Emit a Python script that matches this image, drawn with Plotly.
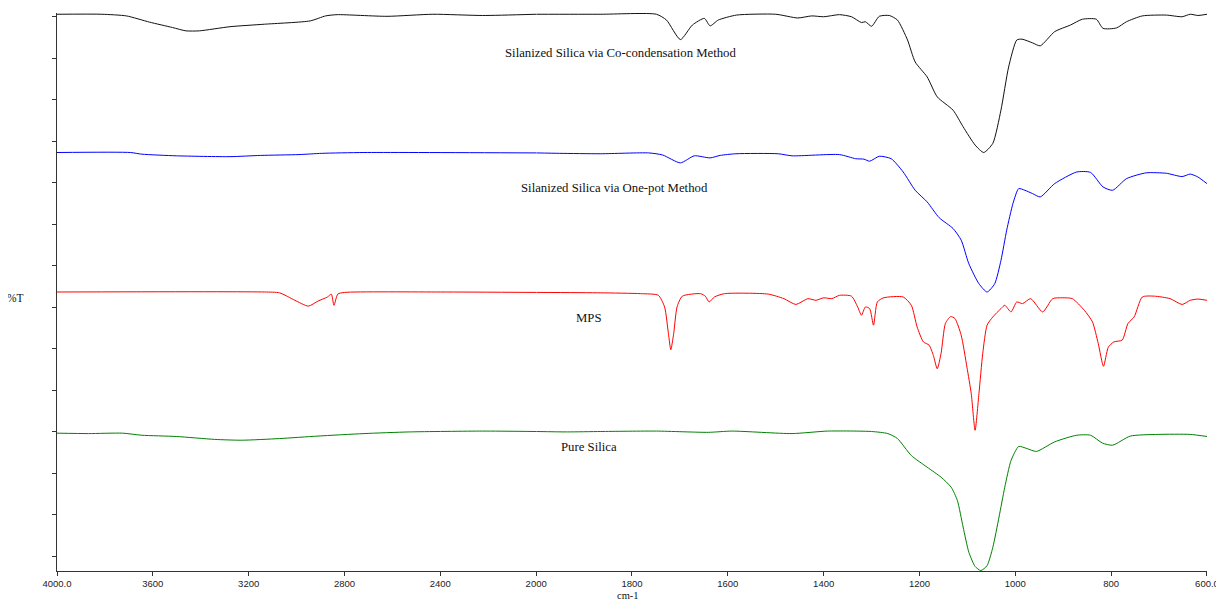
import plotly.graph_objects as go

# ---------------- data (wavenumber cm-1, %T offset units) ----------------
co_wn = [4000, 3813, 3710, 3614, 3518, 3462, 3406, 3278, 3134, 2943,
         2879, 2831, 2623, 2431, 2223, 2000, 1865, 1749, 1728, 1699,
         1674, 1649, 1637, 1620, 1582, 1500, 1454, 1425, 1400, 1367,
         1342, 1321, 1313, 1300, 1284, 1263, 1246, 1225, 1209, 1184,
         1163, 1130, 1109, 1084, 1066, 1047, 1030, 1014, 997, 986,
         964, 948, 918, 885, 860, 831, 817, 789, 768, 735,
         685, 652, 635, 619, 600]
co_t = [130.6, 130.6, 130.2, 128.7, 127.4, 126.6, 126.6, 127.6, 128.2, 129.0,
        130.2, 130.5, 130.1, 130.6, 130.3, 130.6, 130.6, 130.6, 129.2, 124.5,
        128.0, 129.6, 127.8, 129.2, 130.4, 130.6, 129.7, 130.2, 130.0, 130.5,
        130.0, 128.6, 128.8, 127.7, 130.1, 130.3, 129.2, 124.4, 119.1, 115.5,
        110.7, 107.5, 103.5, 99.1, 97.3, 99.5, 107.5, 117.9, 124.4, 124.6,
        123.7, 123.0, 126.4, 128.0, 129.4, 129.4, 127.2, 127.3, 128.8, 130.2,
        130.4, 130.0, 130.6, 130.3, 130.6]

op_wn = [4000, 3694, 3646, 3502, 3278, 3150, 2990, 2895, 2719, 2000,
         1951, 1865, 1765, 1736, 1699, 1670, 1637, 1616, 1583, 1495,
         1466, 1367, 1333, 1316, 1304, 1284, 1259, 1234, 1209, 1184,
         1159, 1130, 1113, 1097, 1076, 1059, 1043, 1030, 1018, 1005,
         993, 980, 964, 948, 918, 872, 843, 817, 797, 768,
         727, 685, 652, 635, 619, 600]
op_t = [97.3, 97.3, 96.9, 96.5, 96.3, 96.6, 96.8, 97.1, 97.3, 97.2,
        97.1, 97.0, 97.2, 96.7, 94.8, 96.5, 96.0, 96.6, 97.0, 97.0,
        96.5, 96.8, 95.8, 95.7, 95.2, 96.4, 95.8, 92.6, 88.2, 85.4,
        81.6, 79.0, 76.2, 70.5, 65.7, 63.7, 65.7, 71.3, 78.6, 85.0,
        88.6, 88.2, 87.4, 86.6, 89.8, 92.6, 92.5, 89.0, 88.2, 91.0,
        92.4, 92.3, 91.5, 92.1, 91.4, 89.8]

mps_wn = [4000, 3134, 3071, 3007, 2951, 2911, 2871, 2855, 2844, 2828,
          2799, 2399, 2000, 1865, 1782, 1745, 1732, 1724, 1719, 1713,
          1706, 1695, 1657, 1647, 1639, 1628, 1607, 1516, 1483, 1458,
          1433, 1416, 1400, 1383, 1367, 1342, 1329, 1321, 1313, 1304,
          1296, 1288, 1275, 1234, 1217, 1205, 1192, 1180, 1171, 1163,
          1155, 1146, 1135, 1126, 1113, 1101, 1092, 1084, 1076, 1068,
          1059, 1047, 1030, 1022, 1009, 997, 985, 968, 943, 922,
          901, 881, 856, 839, 827, 816, 806, 794, 777, 765,
          752, 735, 710, 677, 652, 635, 619, 600]
mps_t = [63.7, 63.7, 63.5, 61.7, 60.3, 61.5, 62.5, 63.2, 60.5, 63.2,
         63.6, 63.7, 63.6, 63.5, 63.3, 62.9, 60.1, 53.7, 49.8, 53.7,
         60.1, 62.7, 63.3, 62.7, 61.3, 62.5, 63.3, 63.2, 62.1, 60.7,
         62.1, 61.7, 62.3, 62.1, 62.9, 62.7, 60.1, 58.1, 60.1, 59.7,
         55.7, 61.3, 62.3, 62.5, 60.5, 55.3, 51.7, 50.9, 48.4, 45.2,
         48.9, 56.1, 57.8, 57.3, 53.3, 45.6, 39.2, 30.4, 39.2, 48.9,
         55.7, 57.7, 59.7, 60.5, 58.9, 61.3, 60.9, 62.1, 58.9, 62.1,
         62.3, 62.1, 59.3, 56.5, 51.3, 45.8, 50.4, 51.7, 52.1, 56.1,
         57.7, 62.5, 62.7, 62.1, 60.7, 61.7, 62.0, 61.7]

si_wn = [4000, 3869, 3726, 3646, 3502, 3342, 3230, 3071, 2911, 2719,
         2528, 2223, 2000, 1935, 1865, 1749, 1641, 1591, 1466, 1392,
         1300, 1266, 1246, 1217, 1184, 1155, 1134, 1121, 1109, 1097,
         1084, 1072, 1059, 1047, 1034, 1022, 1009, 993, 976, 956,
         918, 872, 843, 818, 797, 760, 702, 635, 600]
si_t = [29.7, 29.6, 29.7, 29.2, 28.9, 28.2, 28.0, 28.4, 29.0, 29.6,
        30.0, 30.2, 30.1, 30.0, 30.1, 30.2, 29.9, 30.2, 29.6, 30.2,
        30.1, 29.6, 28.4, 24.3, 21.5, 19.1, 16.7, 13.5, 7.1, 1.0,
        -2.4, -3.4, -2.2, 2.2, 9.5, 16.7, 23.1, 26.5, 26.0, 25.3,
        27.6, 29.2, 29.2, 27.3, 26.8, 29.0, 29.4, 29.4, 28.9]

series_names = ["Silanized Silica via Co-condensation Method",
                "Silanized Silica via One-pot Method",
                "MPS",
                "Pure Silica"]
series_colors = ["#111111", "#0000FF", "#FF0000", "#008000"]

left_ticks = [4000, 3600, 3200, 2800, 2400, 2000]
left_ticktext = ["4000.0", "3600", "3200", "2800", "2400", "2000"]
right_ticks = [1800, 1600, 1400, 1200, 1000, 800, 600]
right_ticktext = ["1800", "1600", "1400", "1200", "1000", "800", "600.0"]
y_ticks = list(range(0, 140, 10))

# ---------------- figure ----------------
fig = go.Figure()
all_series = [(co_wn, co_t), (op_wn, op_t), (mps_wn, mps_t), (si_wn, si_t)]
for (wn, t), name, col in zip(all_series, series_names, series_colors):
    assert len(wn) == len(t)
    lx = [w for w in wn if w >= 2000]
    ly = [v for w, v in zip(wn, t) if w >= 2000]
    rx = [w for w in wn if w <= 2000]
    ry = [v for w, v in zip(wn, t) if w <= 2000]
    for xs, ys, xa in ((lx, ly, "x"), (rx, ry, "x2")):
        fig.add_trace(go.Scatter(x=xs, y=ys, mode="lines", name=name,
                                 line=dict(color=col, width=1, shape="spline", smoothing=0.6),
                                 showlegend=False, xaxis=xa, yaxis="y"))

axis_common = dict(showgrid=False, zeroline=False, showline=True,
                   linecolor="#333333", linewidth=1, ticks="outside",
                   ticklen=4, tickcolor="#333333",
                   tickfont=dict(family="Liberation Sans, Arial", size=9.5, color="#222222"))

split = 5 / 12
# the page body adds an 8px offset, so the figure is sized to fit the window
fig.update_layout(
    width=1216, height=598,
    margin=dict(l=49, r=17, t=5, b=35),
    paper_bgcolor="white", plot_bgcolor="white",
    xaxis=dict(domain=[0, split], range=[4000, 2000], tickmode="array",
               tickvals=left_ticks, ticktext=left_ticktext, anchor="y",
               **axis_common),
    xaxis2=dict(domain=[split, 1], range=[2000, 600], tickmode="array",
                tickvals=right_ticks, ticktext=right_ticktext, anchor="y",
                **axis_common),
    yaxis=dict(range=[-3.5, 130.9], tickmode="array", tickvals=y_ticks,
               showticklabels=False, anchor="x", **axis_common),
)

serif = dict(family="Liberation Serif, Times New Roman", size=12.75, color="#111111")
label_pos = [(0.4896, 0.9277), (0.4848, 0.6857), (0.4626, 0.4526), (0.463, 0.2223)]
for name, (ax, ay) in zip(series_names, label_pos):
    fig.add_annotation(text=name, x=ax, y=ay, xref="paper", yref="paper",
                       showarrow=False, font=serif, xanchor="center", yanchor="middle")

fig.add_annotation(text="%T", x=-0.0357, y=0.489, xref="paper", yref="paper",
                   showarrow=False, font=dict(family="Liberation Serif", size=11.5, color="#111111"),
                   xanchor="center", yanchor="middle")
fig.add_annotation(text="cm-1", x=0.4965, y=-0.0436, xref="paper", yref="paper",
                   showarrow=False, font=dict(family="Liberation Serif", size=10.5, color="#111111"),
                   xanchor="center", yanchor="middle")

fig.write_html("out.html")
